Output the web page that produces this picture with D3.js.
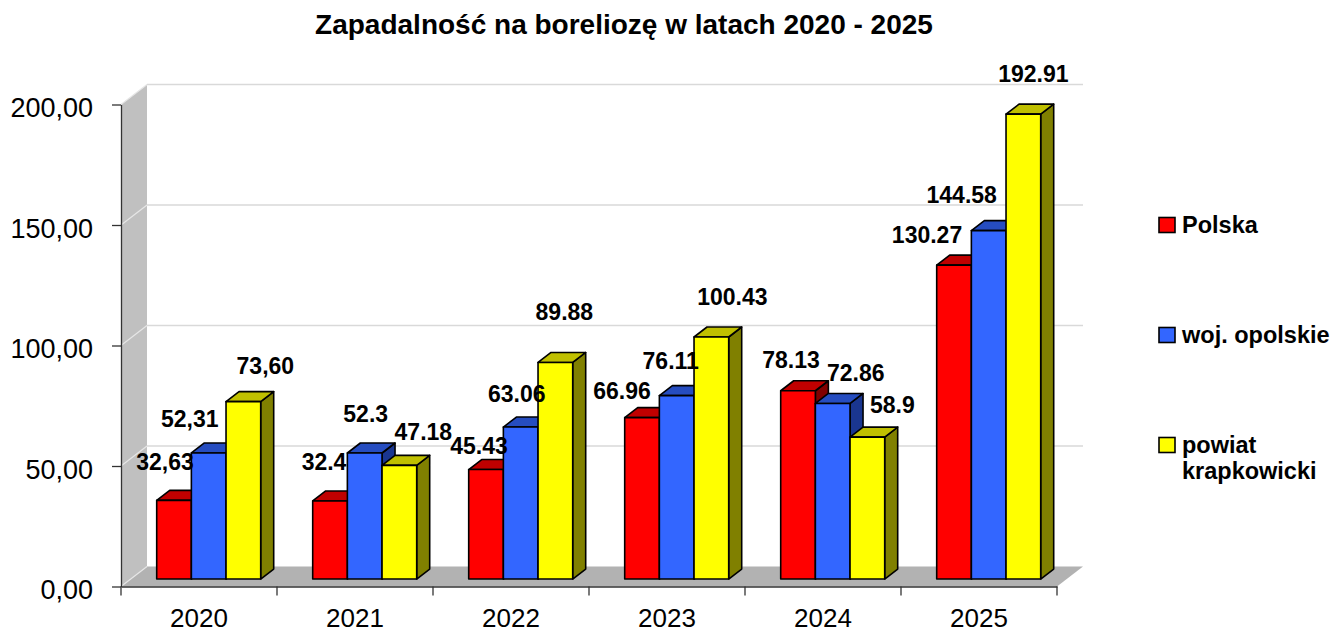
<!DOCTYPE html>
<html>
<head>
<meta charset="utf-8">
<script src="https://cdn.jsdelivr.net/npm/d3@7"></script>
<style>
  body { margin: 0; background: #fff; }
  svg { font-family: Arial, "Liberation Sans", sans-serif; }
</style>
</head>
<body>
<svg width="1334" height="632"></svg>
<script>
// data
const years = ["2020", "2021", "2022", "2023", "2024", "2025"];
const seriesNames = ["Polska", "woj. opolskie", "powiat krapkowicki"];
const polska = [32.63, 32.4, 45.43, 66.96, 78.13, 130.27];
const opolskie = [52.31, 52.3, 63.06, 76.11, 72.86, 144.58];
const krapkowicki = [73.60, 47.18, 89.88, 100.43, 58.9, 192.91];
const yTicks = [0, 50, 100, 150, 200];

// label nudges (the labels were dragged by hand in the original)
const labelShift = [
  [[-9, -30], [-19, -26], [22, -28]],
  [[-6, -31], [1, -31], [24, -25]],
  [[-7, -16], [-4, -25], [9, -42]],
  [[-20, -19], [-6, -27], [21, -32]],
  [[-7, -23], [23, -22], [25, -24]],
  [[-27, -22], [-27, -28], [10, -32]]
];

const colors = {
  front: ["#ff0000", "#3366ff", "#ffff00"],
  top: ["#c00000", "#264dc0", "#c0c000"],
  side: ["#800000", "#1a3690", "#808000"]
};

const svg = d3.select("svg");

const left = 121, right = 1057, bottom = 586.5, topY = 104.5;
const DX = 26, DY = 20;          // full depth of the 3d box
const t0 = 0.373, t1 = 0.873;    // bar front / back depth fraction

const x0 = d3.scaleBand().domain(years).range([left, right]);
const x1 = d3.scaleBand().domain(seriesNames).range([0, x0.bandwidth()])
  .paddingInner(0).paddingOuter(0.75);
const y = d3.scaleLinear().domain([0, 200]).range([bottom, topY]);

const p = (x, yy, t) => [x + DX * t, yy - DY * t];
const pts = arr => arr.map(d => d.join(",")).join(" ");

// side wall
svg.append("polygon")
  .attr("points", pts([[left, bottom], [left, topY], p(left, topY, 1), p(left, bottom, 1)]))
  .attr("fill", "#c0c0c0");

// floor
svg.append("polygon")
  .attr("points", pts([[left, bottom], [right, bottom], p(right, bottom, 1), p(left, bottom, 1)]))
  .attr("fill", "#b2b2b2");

// gridlines on back wall and side wall
yTicks.forEach(v => {
  const a = p(left, y(v), 1), b = p(right, y(v), 1);
  if (v > 0) {
    svg.append("line")
      .attr("x1", a[0]).attr("y1", a[1]).attr("x2", b[0]).attr("y2", b[1])
      .attr("stroke", "#d9d9d9").attr("stroke-width", 1.5);
  }
  svg.append("line")
    .attr("x1", left).attr("y1", y(v)).attr("x2", a[0]).attr("y2", a[1])
    .attr("stroke", "#e6e6e6").attr("stroke-width", 1.2);
});

// y axis
const fmtAxis = d => d3.format(".2f")(d).replace(".", ",");
const yAxis = svg.append("g")
  .attr("transform", `translate(${left},0)`)
  .call(d3.axisLeft(y).tickValues(yTicks).tickSize(9).tickSizeOuter(0).tickFormat(fmtAxis));
yAxis.select(".domain").attr("stroke", "#333").attr("stroke-width", 1.3);
yAxis.selectAll(".tick line").attr("stroke", "#333").attr("stroke-width", 1.3);
yAxis.selectAll(".tick text")
  .attr("font-size", 27).attr("fill", "#000")
  .attr("x", -28).attr("dy", "0.45em")
  .attr("font-family", "Arial, 'Liberation Sans', sans-serif");

// x axis
const xAxis = svg.append("g")
  .attr("transform", `translate(0,${bottom})`)
  .call(d3.axisBottom(x0).tickSize(0).tickSizeOuter(0));
xAxis.select(".domain").attr("stroke", "#333").attr("stroke-width", 1.3);
xAxis.selectAll(".tick text")
  .attr("font-size", 26).attr("fill", "#000")
  .attr("y", 40).attr("dy", 0)
  .attr("font-family", "Arial, 'Liberation Sans', sans-serif");
const bounds = years.map(d => x0(d)).concat([x0(years[years.length - 1]) + x0.bandwidth()]);
xAxis.selectAll(".bound").data(bounds).enter().append("line")
  .attr("class", "bound")
  .attr("x1", d => d).attr("x2", d => d)
  .attr("y1", 0).attr("y2", 9)
  .attr("stroke", "#333").attr("stroke-width", 1.3);

// bars
const values = [polska, opolskie, krapkowicki];
const bars = [];
years.forEach((yr, i) => {
  seriesNames.forEach((s, j) => {
    bars.push({ i, j, year: yr, value: values[j][i] });
  });
});

const barG = svg.append("g");
bars.forEach(d => {
  const xl = x0(d.year) + x1(seriesNames[d.j]);
  const xr = xl + x1.bandwidth();
  const yt = y(d.value);
  const yb = y(0);
  const g = barG.append("g");
  const style = sel => sel.attr("stroke", "#000").attr("stroke-width", 1.6).attr("stroke-linejoin", "round");
  // side face
  g.append("polygon")
    .attr("points", pts([p(xr, yb, t0), p(xr, yb, t1), p(xr, yt, t1), p(xr, yt, t0)]))
    .attr("fill", colors.side[d.j]).call(style);
  // top face
  g.append("polygon")
    .attr("points", pts([p(xl, yt, t0), p(xr, yt, t0), p(xr, yt, t1), p(xl, yt, t1)]))
    .attr("fill", colors.top[d.j]).call(style);
  // front face
  g.append("polygon")
    .attr("points", pts([p(xl, yb, t0), p(xr, yb, t0), p(xr, yt, t0), p(xl, yt, t0)]))
    .attr("fill", colors.front[d.j]).call(style);
});

// data labels
const fmtLabel = (v, i) => i === 0 ? d3.format(".2f")(v).replace(".", ",") : String(v);
svg.append("g").selectAll("text").data(bars).enter().append("text")
  .attr("x", d => p(x0(d.year) + x1(seriesNames[d.j]) + x1.bandwidth() / 2, 0, t0)[0] + labelShift[d.i][d.j][0])
  .attr("y", d => p(0, y(d.value), t0)[1] + labelShift[d.i][d.j][1])
  .attr("text-anchor", "middle")
  .attr("font-size", 23).attr("font-weight", "bold")
  .text(d => fmtLabel(d.value, d.i));

// legend
const legendRows = [["Polska"], ["woj. opolskie"], ["powiat", "krapkowicki"]];
const leg = svg.append("g").attr("transform", "translate(1159,0)");
legendRows.forEach((lines, j) => {
  const cy = 225 + j * 110;
  leg.append("rect")
    .attr("x", 0).attr("y", cy - 7.5).attr("width", 16).attr("height", 15)
    .attr("fill", colors.front[j]).attr("stroke", "#000").attr("stroke-width", 1.6);
  lines.forEach((t, k) => {
    leg.append("text")
      .attr("x", 23).attr("y", cy + 8 + k * 26)
      .attr("font-size", 23.5).attr("font-weight", "bold")
      .text(t);
  });
});

// title
svg.append("text")
  .attr("x", 624).attr("y", 34)
  .attr("text-anchor", "middle")
  .attr("font-size", 28).attr("font-weight", "bold")
  .text("Zapadalność na boreliozę w latach 2020 - 2025");
</script>
</body>
</html>
